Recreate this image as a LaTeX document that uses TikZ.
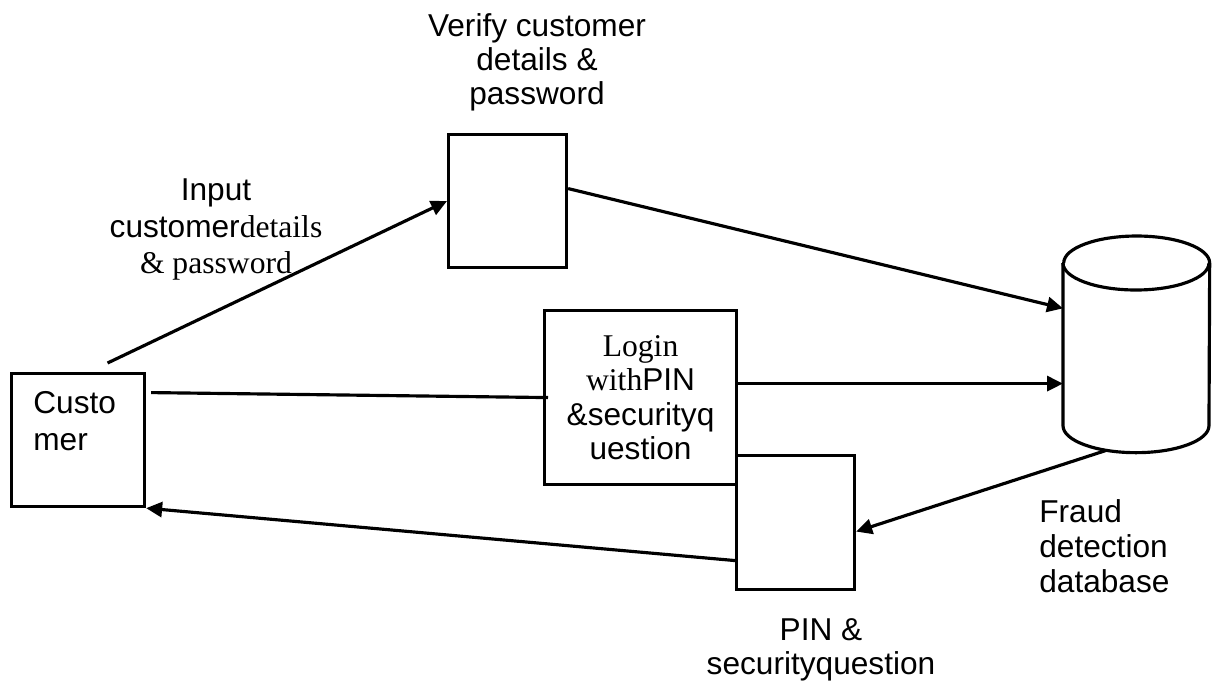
\documentclass[tikz,border=0pt]{standalone}
\usepackage{fontspec}
\setmainfont{Liberation Sans}
\newfontfamily\tnr{Liberation Serif}
\usetikzlibrary{arrows.meta}

\begin{document}
\begin{tikzpicture}
[
    x=0.02cm, y=-0.02cm,
    every node/.style={font=\fontsize{18}{19.5}\selectfont, inner sep=0pt},
    box/.style={draw, line width=1.8pt, anchor=north west},
    flow/.style={line width=1.8pt, -{Triangle[length=0.32cm,width=0.3cm]}},
    note/.style={align=center, anchor=north}
]
    \useasboundingbox (0,0) rectangle (1217,684);

    % process boxes
    \node [box, minimum width=2.66cm, minimum height=2.66cm] (customer) at (10,372) {};
    \node [box, minimum width=2.36cm, minimum height=2.66cm] (verify) at (447,133) {};
    \node [box, minimum width=2.36cm, minimum height=2.68cm] (pin) at (735,454) {};
    \node [box, minimum width=3.84cm, minimum height=3.48cm, align=center] (login) at (543,309)
        {{\tnr Login}\\{\tnr with}PIN\\\&securityq\\uestion};

    % database
    \node [anchor=north west, minimum width=2.92cm, minimum height=3.24cm] (db) at (1063,263) {};
    \draw [line width=1.8pt] (db.north west) -- (db.south west)
        arc [start angle=180, end angle=360, x radius=1.46cm, y radius=0.54cm]
        -- (db.north east)
        arc [start angle=0, end angle=180, x radius=1.46cm, y radius=0.54cm];
    \draw [line width=1.8pt] (db.north west)
        arc [start angle=180, end angle=360, x radius=1.46cm, y radius=0.54cm];

    % texts
    \node [anchor=north west, align=left, font=\fontsize{18}{21}\selectfont] (customer text) at (33,391) {Custo\\mer};
    \node [note] (verify label) at (537,13) {Verify customer\\details \&\\password};
    \node [note, font=\fontsize{18}{21}\selectfont] (input label) at (216,178)
        {Input\\customer{\tnr details}\\{\tnr \& password}};
    \node [note] (pin label) at (821,618) {PIN \&\\securityquestion};
    \node [anchor=north west, align=left, font=\fontsize{18}{20}\selectfont] (fraud label) at (1039,499)
        {Fraud\\detection\\database};

    % flows
    \draw [flow] ([xshift=0.59cm,yshift=0.18cm]customer.north) -- (verify.west);
    \draw [flow] ([yshift=0.25cm]verify.east) -- ([yshift=0.72cm]db.west);
    \draw [line width=1.8pt] ([xshift=0.1cm,yshift=0.95cm]customer.east) -- ([xshift=0.1cm]login.west);
    \draw [flow] ([yshift=0.28cm]login.east) -- ([yshift=0.28cm]login.east -| db.west);
    \draw [flow] ([xshift=-0.62cm,yshift=-0.5cm]db.south) -- ([yshift=-0.18cm]pin.east);
    \draw [flow] ([yshift=-0.76cm]pin.west) -- (customer.south east);
\end{tikzpicture}
\end{document}
